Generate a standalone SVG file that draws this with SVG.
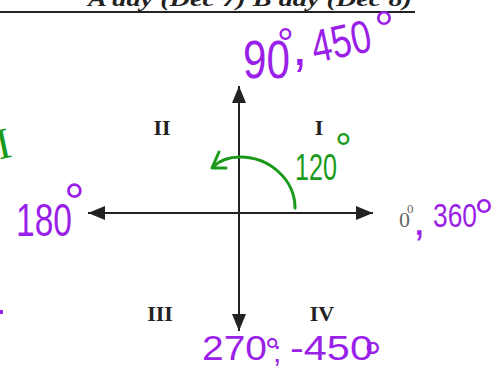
<svg xmlns="http://www.w3.org/2000/svg" width="500" height="377" viewBox="0 0 500 377">
<style>
.ax{stroke:#222;stroke-width:2;fill:none}
.q{font-family:"Liberation Serif",serif;font-weight:bold;font-size:22px;fill:#222;text-anchor:middle}
.p{font-family:"Liberation Sans",sans-serif;fill:#9a1fe8}
.g{font-family:"Liberation Sans",sans-serif;fill:#1a9a1a}
</style>
<defs>
<marker id="ah2" viewBox="0 0 17 14" refX="17" refY="7" markerWidth="17" markerHeight="14" markerUnits="userSpaceOnUse" orient="auto">
<path d="M0,0 L17,7 L0,14 z" fill="#222"/>
</marker>
</defs>
<rect width="500" height="377" fill="#fff"/>
<g id="title">
<text x="88" y="6" font-family="Liberation Serif,serif" font-weight="bold" font-style="italic" font-size="20" fill="#222" textLength="324" lengthAdjust="spacingAndGlyphs">A day (Dec 7) B day (Dec 8)</text>
<line x1="0" y1="12" x2="415" y2="12" stroke="#222" stroke-width="2"/>
</g>
<g id="connectors">
<line class="ax" x1="239" y1="326" x2="239" y2="86" marker-end="url(#ah2)"/>
<line class="ax" x1="239" y1="100" x2="239" y2="331" marker-end="url(#ah2)"/>
<line class="ax" x1="239" y1="213" x2="373" y2="213" marker-end="url(#ah2)"/>
<line class="ax" x1="239" y1="213" x2="88" y2="213" marker-end="url(#ah2)"/>
<path d="M295,208 C295,180 270,157 240,157 C228,157 219,161 213,167" stroke="#1a9a1a" stroke-width="3" fill="none" stroke-linecap="round"/>
<path d="M219,152 L212,168 L226,168" stroke="#1a9a1a" stroke-width="3" fill="none" stroke-linecap="round" stroke-linejoin="round"/>
</g>
<g id="quadrants">
<text class="q" x="162" y="135">II</text>
<text class="q" x="319" y="135">I</text>
<text class="q" x="160" y="321">III</text>
<text class="q" x="322" y="321">IV</text>
</g>
<g id="label-0">
<text x="399" y="227" font-family="Liberation Serif,serif" font-size="22" fill="#666">0</text>
<text x="407" y="213" font-family="Liberation Serif,serif" font-size="13" fill="#666">0</text>
<text class="p" x="413" y="235" font-size="45">,</text>
<text class="p" x="433" y="227" font-size="34" textLength="44" lengthAdjust="spacingAndGlyphs">360</text>
<text class="p" x="474" y="234" font-size="50">°</text>
</g>
<g id="label-90">
<text class="p" x="243" y="78" font-size="53" textLength="47" lengthAdjust="spacingAndGlyphs">90</text>
<text class="p" x="277" y="58" font-size="42">°</text>
<text class="p" x="292" y="65" font-size="56">,</text>
<text class="p" font-size="46" textLength="60" lengthAdjust="spacingAndGlyphs" transform="translate(315,63) rotate(-12)">450</text>
<text class="p" x="374" y="46" font-size="50">°</text>
</g>
<g id="label-180">
<text class="p" x="16" y="236" font-size="46" textLength="56" lengthAdjust="spacingAndGlyphs">180</text>
<text class="p" x="64" y="220" font-size="52">°</text>
</g>
<g id="label-270">
<text class="p" x="202" y="360" font-size="35" textLength="65" lengthAdjust="spacingAndGlyphs">270</text>
<text class="p" x="265" y="364" font-size="36">°</text>
<text class="p" x="273" y="362" font-size="30">;</text>
<text class="p" x="290" y="360" font-size="35" textLength="83" lengthAdjust="spacingAndGlyphs">-450</text>
<text class="p" x="364" y="373" font-size="44">°</text>
</g>
<g id="label-120">
<text class="g" x="295" y="180" font-size="36" textLength="42" lengthAdjust="spacingAndGlyphs">120</text>
<text class="g" x="335" y="163" font-size="42">°</text>
</g>
<g id="edge-marks">
<text x="-4" y="158" font-family="Liberation Serif,serif" font-size="44" fill="#1a9a1a" transform="rotate(-12 5 145)">I</text>
<rect x="0" y="310" width="3" height="4" fill="#9a1fe8"/>
</g>
</svg>
